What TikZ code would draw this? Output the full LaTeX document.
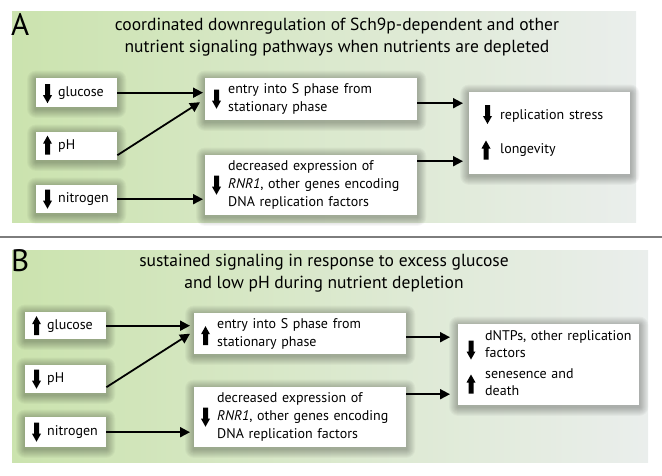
\documentclass[tikz,border=0pt]{standalone}
\usepackage{fontspec}
\setmainfont{PT Sans}
\usetikzlibrary{arrows.meta,calc}
\definecolor{bgL}{RGB}{203,227,174}
\definecolor{bgR}{RGB}{234,238,236}
\definecolor{sepgray}{RGB}{125,125,125}
\pgfdeclarelayer{panellayer}
\pgfdeclarelayer{halolayer}
\pgfsetlayers{panellayer,halolayer,main}
\tikzset{
  panelbg/.style={left color=bgL,right color=bgR,draw=none},
  bx/.style={fill=white,draw=none,anchor=north west,inner ysep=0pt,inner xsep=7pt,align=left,
    font=\fontsize{14}{18}\selectfont},
  halo/.style={fill=black,opacity=0.03,draw=none},
  conn/.style={line width=1.8pt,-{Triangle[length=10pt,width=10pt]}},
  glyphdn/.pic={\fill (-2.5,-9.5) -- (2.5,-9.5) -- (2.5,1.5) -- (4.5,1.5) -- (0,9.5) -- (-4.5,1.5) -- (-2.5,1.5) -- cycle;},
  glyphup/.pic={\fill (-2.5,9.5) -- (2.5,9.5) -- (2.5,-1.5) -- (4.5,-1.5) -- (0,-9.5) -- (-4.5,-1.5) -- (-2.5,-1.5) -- cycle;},
  ttl/.style={font=\fontsize{17.5}{21.5}\selectfont,align=center,inner sep=0pt},
  plabel/.style={font=\fontsize{31}{31}\selectfont,anchor=base west,inner sep=0pt}
}
\begin{document}
\begin{tikzpicture}[x=1pt,y=-1pt]
\useasboundingbox (0,0) rectangle (662,475);
% backgrounds
\begin{pgfonlayer}{panellayer}
\fill[panelbg] (12,11) rectangle (636,222);
\fill[panelbg] (12,250) rectangle (648,462);
\end{pgfonlayer}
\coordinate (sepL) at (0,237);
\coordinate (sepR) at (662,237);
\draw[sepgray,line width=1.2pt] (sepL) -- (sepR);
% ---------- panel A ----------
\node[plabel] (labA) at (11,35) {A};
\node[ttl] (tA) at (337,37) {coordinated downregulation of Sch9p-dependent and other\\nutrient signaling pathways when nutrients are depleted};
\node[bx,minimum width=81pt,minimum height=29pt,text width=67pt] (gluA) at (36,78) {\hspace*{15pt}glucose};
\node[bx,minimum width=81pt,minimum height=28pt,text width=67pt] (phA) at (36,132) {\hspace*{15pt}pH};
\node[bx,minimum width=81pt,minimum height=28pt,text width=67pt] (nitA) at (36,185) {\hspace*{15pt}nitrogen};
\node[bx,minimum width=212pt,minimum height=42pt,text width=198pt] (entA) at (205,78)
  {\begin{tabular}{@{\hspace{16pt}}l@{}}entry into S phase from\\stationary phase\end{tabular}};
\node[bx,minimum width=212pt,minimum height=60pt,text width=198pt] (decA) at (205,155)
  {\begin{tabular}{@{\hspace{16pt}}l@{}}decreased expression of\\\textit{RNR1}, other genes encoding\\DNA replication factors\end{tabular}};
\node[bx,minimum width=161pt,minimum height=82pt,text width=147pt] (rA) at (469,92)
  {\begin{tabular}{@{\hspace{24pt}}l@{}}replication stress\\[16pt]longevity\end{tabular}};
\pic at ($(gluA.west)+(11.5,1)$) {glyphdn};
\pic at ($(phA.west)+(11.5,-1)$) {glyphup};
\pic at ($(nitA.west)+(11.5,0)$) {glyphdn};
\pic at ($(entA.west)+(11.5,0)$) {glyphdn};
\pic at ($(decA.west)+(11.5,0)$) {glyphdn};
\pic at ($(rA.north west)+(18.5,22.5)$) {glyphdn};
\pic at ($(rA.north west)+(17,58)$) {glyphup};
\draw[conn] (gluA.east) -- ($(entA.west |- gluA.east)+(-2,0)$);
\draw[conn] ($(phA.east)+(0,9)$) -- ($(entA.west)+(-5,3)$);
\draw[conn] (nitA.east) -- ($(decA.west |- nitA.east)+(-2,0)$);
\draw[conn] ($(entA.east)+(0,4)$) -- ($(rA.west |- entA.east)+(-6,4)$);
\draw[conn] ($(decA.east)+(0,-24)$) -- ($(rA.west |- decA.east)+(-6,-24)$);
% ---------- panel B ----------
\node[plabel] (labB) at (11,271) {B};
\node[ttl] (tB) at (324,273) {sustained signaling in response to excess glucose\\and low pH during nutrient depletion};
\node[bx,minimum width=81pt,minimum height=27pt,text width=67pt] (gluB) at (25,312) {\hspace*{15pt}glucose};
\node[bx,minimum width=81pt,minimum height=28pt,text width=67pt] (phB) at (25,365) {\hspace*{15pt}pH};
\node[bx,minimum width=81pt,minimum height=30pt,text width=67pt] (nitB) at (25,417) {\hspace*{15pt}nitrogen};
\node[bx,minimum width=212pt,minimum height=41pt,text width=198pt] (entB) at (194,313)
  {\begin{tabular}{@{\hspace{16pt}}l@{}}entry into S phase from\\stationary phase\end{tabular}};
\node[bx,minimum width=212pt,minimum height=60pt,text width=198pt] (decB) at (194,387)
  {\begin{tabular}{@{\hspace{16pt}}l@{}}decreased expression of\\\textit{RNR1}, other genes encoding\\DNA replication factors\end{tabular}};
\node[bx,minimum width=181pt,minimum height=81pt,text width=171pt,inner xsep=5pt] (rB) at (458,324)
  {\fontsize{14}{17}\selectfont\begin{tabular}{@{\hspace{22pt}}l@{}}dNTPs, other replication\\factors\\[4pt]senesence and\\death\end{tabular}};
\pic at ($(gluB.west)+(11.5,0)$) {glyphup};
\pic at ($(phB.west)+(11.5,0)$) {glyphdn};
\pic at ($(nitB.west)+(11.5,0)$) {glyphdn};
\pic at ($(entB.west)+(11.5,2)$) {glyphup};
\pic at ($(decB.west)+(11.5,0)$) {glyphdn};
\pic at ($(rB.north west)+(13,26)$) {glyphdn};
\pic at ($(rB.north west)+(13,60)$) {glyphup};
\draw[conn] (gluB.east) -- ($(entB.west |- gluB.east)+(-4,0)$);
\draw[conn] ($(phB.east)+(0,8)$) -- ($(entB.west)+(-4,0)$);
\draw[conn] (nitB.east) -- ($(decB.west |- nitB.east)+(-4,0)$);
\draw[conn] ($(entB.east)+(0,3.5)$) -- ($(rB.west |- entB.east)+(-8,3.5)$);
\draw[conn] ($(decB.east)+(0,-23)$) -- ($(rB.west |- decB.east)+(-8,-23)$);
% soft shadows behind the boxes
\begin{pgfonlayer}{halolayer}
\foreach \n in {gluA,phA,nitA,entA,decA,rA,gluB,phB,nitB,entB,decB,rB}{
  \foreach \i in {1,...,9}{
    \fill[halo,rounded corners=\i pt] ($(\n.north west)+(-\i,-\i+1.5)$) rectangle ($(\n.south east)+(\i,\i+1.5)$);
  }
}
\end{pgfonlayer}
\end{tikzpicture}
\end{document}
